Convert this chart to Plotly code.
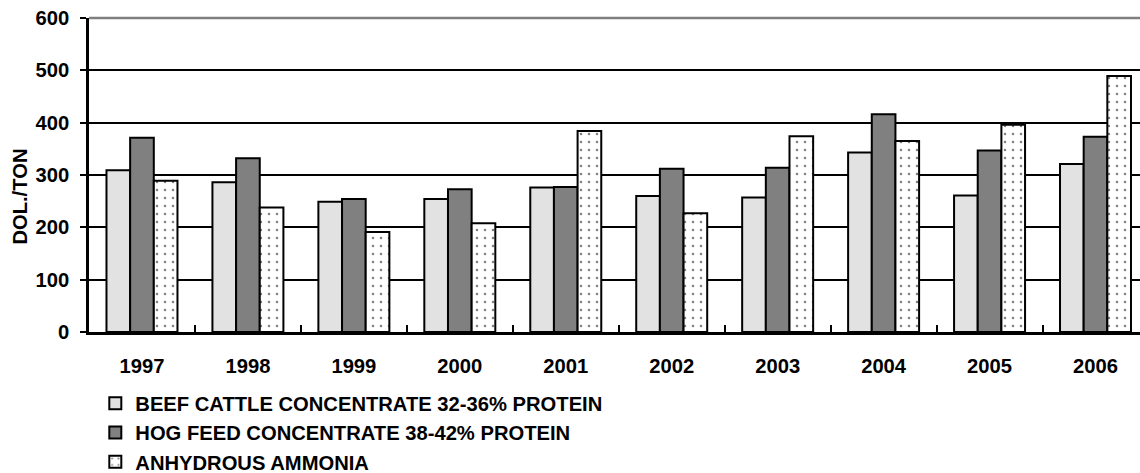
import plotly.graph_objects as go

years = ["1997", "1998", "1999", "2000", "2001", "2002", "2003", "2004", "2005", "2006"]
beef = [309, 286, 249, 254, 276, 260, 257, 343, 261, 321]
hog = [371, 332, 254, 273, 277, 312, 314, 416, 347, 373]
ammonia = [289, 238, 191, 208, 384, 227, 374, 365, 396, 489]

names = [
    "BEEF CATTLE CONCENTRATE 32-36% PROTEIN",
    "HOG FEED CONCENTRATE 38-42% PROTEIN",
    "ANHYDROUS AMMONIA",
]

FONT = dict(family="Liberation Sans, Arial, sans-serif", size=20.2, color="black", weight="bold")

fig = go.Figure()
fig.add_trace(go.Bar(
    x=years, y=beef, name=names[0],
    marker=dict(color="#e2e2e2", line=dict(color="black", width=2)),
))
fig.add_trace(go.Bar(
    x=years, y=hog, name=names[1],
    marker=dict(color="#808080", line=dict(color="black", width=2)),
))
fig.add_trace(go.Bar(
    x=years, y=ammonia, name=names[2],
    marker=dict(color="white", line=dict(color="black", width=2),
                pattern=dict(shape=".", fgcolor="black", bgcolor="white",
                             size=8, solidity=0.08, fillmode="overlay")),
))

fig.update_layout(
    width=1140, height=473,
    margin=dict(l=89, r=0, t=18, b=141),
    paper_bgcolor="white", plot_bgcolor="white",
    barmode="group", bargap=0.33, bargroupgap=0,
    font=FONT,
    showlegend=True,
    legend=dict(
        orientation="v", x=0.006, xanchor="left",
        yref="container", y=0.189, yanchor="top",
        font=FONT, bgcolor="rgba(0,0,0,0)", itemwidth=30,
    ),
    xaxis=dict(
        type="category", range=[-0.5, 9.42],
        showline=True, linecolor="black", linewidth=2.5,
        ticks="inside", tickson="boundaries", ticklen=7, tickwidth=2, tickcolor="black",
        showgrid=False, tickfont=FONT, ticklabelstandoff=14,
    ),
    yaxis=dict(
        range=[0, 600], dtick=100,
        showline=True, linecolor="black", linewidth=2.5,
        ticks="outside", ticklen=6, tickwidth=2, tickcolor="black",
        showgrid=True, gridcolor="black", gridwidth=2,
        tickfont=FONT, zeroline=False, ticklabelstandoff=7,
        ticklabeloverflow="allow",
    ),
    annotations=[dict(
        text="DOL./TON", textangle=-90, xref="paper", yref="paper",
        x=-0.066, y=0.43, xanchor="center", yanchor="middle",
        showarrow=False, font=FONT,
    )],
    shapes=[dict(type="line", xref="paper", yref="paper", x0=0, x1=1, y0=1, y1=1,
                 line=dict(color="#7f7f7f", width=2.5))],
)

fig.write_html("out.html", config={"displayModeBar": False},
               post_script="document.body.style.margin='0';")
